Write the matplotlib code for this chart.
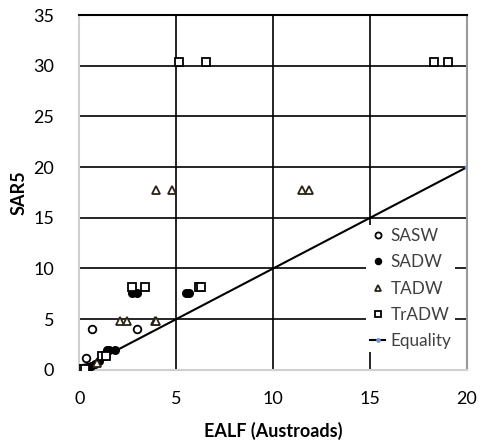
import numpy as np
import matplotlib
matplotlib.use("Agg")
import matplotlib.pyplot as plt

plt.rcParams['font.family'] = ['Lato', 'DejaVu Sans']

# data
sasw_x = [0.65, 3.0, 0.33, 0.1, 0.2]
sasw_y = [4.0, 4.0, 1.15, 0.1, 0.2]

sadw_x = [2.72, 2.97, 5.5, 5.65, 1.42, 1.55, 1.86, 0.0, 0.05, 0.1, 0.15, 0.2, 0.25, 0.3, 0.4, 0.5, 0.6, 0.8, 1.0]
sadw_y = [7.55, 7.55, 7.6, 7.6, 2.0, 2.0, 2.0, 0.0, 0.0, 0.05, 0.05, 0.1, 0.15, 0.15, 0.25, 0.3, 0.4, 0.6, 0.9]

tadw_x = [3.98, 4.79, 11.5, 11.86, 2.08, 2.44, 3.9, 3.95, 0.94, 0.3]
tadw_y = [17.7, 17.7, 17.7, 17.7, 4.8, 4.8, 4.8, 4.8, 0.7, 0.2]

tradw_x = [5.15, 6.53, 18.3, 19.0, 2.72, 3.37, 6.2, 6.3, 1.17, 1.37, 0.1, 0.2, 0.3]
tradw_y = [30.4, 30.4, 30.4, 30.4, 8.15, 8.15, 8.2, 8.2, 1.4, 1.4, 0.0, 0.05, 0.1]

eq_x = [0, 20]
eq_y = [0, 20]

fig, ax = plt.subplots(figsize=(4.83, 4.44), dpi=100)
fig.subplots_adjust(left=0.164, right=0.967, top=0.966, bottom=0.167)

ax.plot(sasw_x, sasw_y, 'o', mfc='white', mec='black', mew=1.3, ms=5.5, label='SASW', zorder=3)
ax.plot(sadw_x, sadw_y, 'o', mfc='black', mec='black', ms=5.5, label='SADW', zorder=3)
ax.plot(tadw_x, tadw_y, '^', mfc='white', mec='#2a2418', mew=1.3, ms=5.5, label='TADW', zorder=3)
ax.plot(tradw_x, tradw_y, 's', mfc='white', mec='black', mew=1.3, ms=5.5, label='TrADW', zorder=3)
ax.plot(eq_x, eq_y, '-', color='black', lw=1.5, marker='o', ms=3, mfc='#6f95d6', mec='#6f95d6',
        label='Equality', zorder=2)

ax.set_xlim(0, 20)
ax.set_ylim(0, 35)
ax.set_xticks([0, 5, 10, 15, 20])
ax.set_yticks(np.arange(0, 36, 5))
ax.grid(True, color='black', lw=1.2)
ax.set_axisbelow(True)
ax.tick_params(length=0, labelsize=13)
ax.tick_params(axis='x', pad=15)
ax.tick_params(axis='y', pad=18)
for s in ['left', 'bottom']:
    ax.spines[s].set_color('#d0d0d0')
    ax.spines[s].set_linewidth(1.5)
for s in ['top', 'right']:
    ax.spines[s].set_color('#999999')
    ax.spines[s].set_linewidth(1.5)
ax.spines['top'].set_color('black')

ax.set_xlabel('EALF (Austroads)', fontsize=13, fontweight='bold', labelpad=11)
ax.set_ylabel('SAR5', fontsize=13, fontweight='bold', labelpad=4)

leg = ax.legend(loc='lower right', bbox_to_anchor=(0.99, 0.025), frameon=True, fancybox=False,
                edgecolor='none', facecolor='white', framealpha=1, fontsize=12.3,
                handlelength=0.9, handletextpad=0.3, labelspacing=0.6, borderpad=0.2,
                markerscale=0.8, labelcolor='#404040')
leg.get_frame().set_linewidth(0)

fig.savefig('out.png', dpi=100)
